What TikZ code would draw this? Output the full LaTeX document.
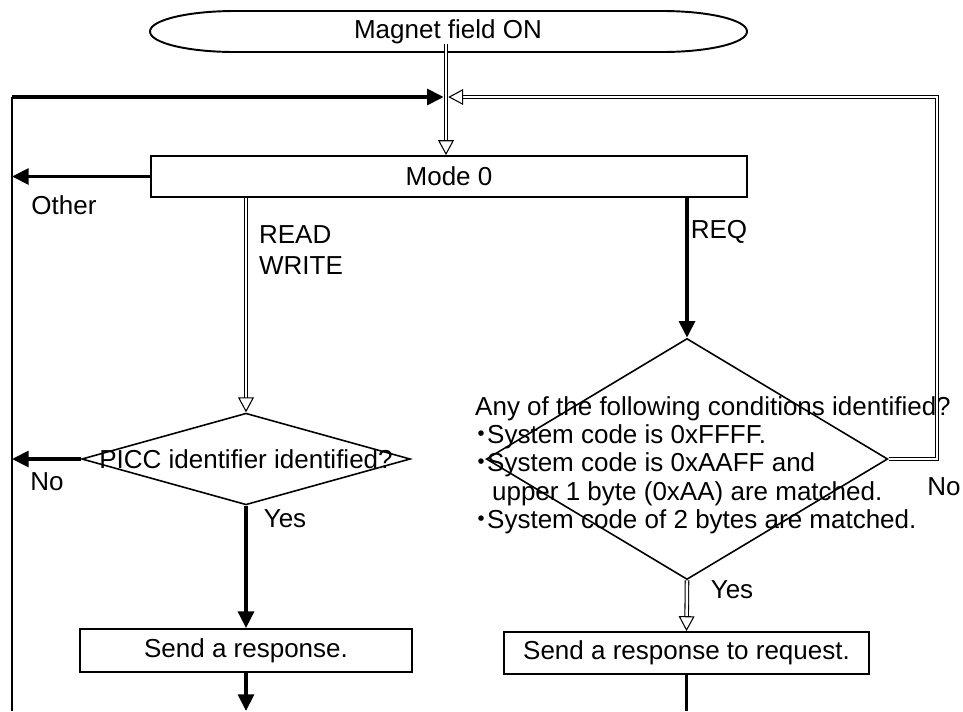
\documentclass[tikz,border=0pt]{standalone}
\usepackage{fontspec}
\setmainfont{Liberation Sans}
\newfontfamily\cjk{Noto Sans CJK JP}
\usetikzlibrary{arrows.meta, shapes.geometric}

\newcommand{\dotitem}{\makebox[0.46em][c]{\cjk ・}}

\begin{document}
\begin{tikzpicture}[x=0.02cm, y=-0.02cm,
  every node/.style={font=\fontsize{14.8}{17.8}\selectfont, inner sep=0pt},
  procbox/.style={draw, line width=1.1pt, rectangle},
  decision/.style={draw, line width=0.9pt, diamond, inner sep=0pt},
  dbl/.style={line width=0.6pt, double distance=1.4pt},
  heavy/.style={line width=2.1pt},
  fillhead/.style={-{Triangle[length=9.5pt,width=9pt]}},
  openhead/.style={-{Triangle[open,length=8.5pt,width=9pt]}}]

\useasboundingbox (0,0) rectangle (963,711);

%%%start
\node (start) at (448,31.5) {Magnet field ON};
\draw[line width=1.1pt] (235,11) -- (662,11)
  .. controls (709,11) and (747,20) .. (747,31.5)
  .. controls (747,43) and (709,52) .. (662,52) -- (235,52)
  .. controls (188,52) and (150,43) .. (150,31.5)
  .. controls (150,20) and (188,11) .. (235,11) -- cycle;

%%%mode 0
\node[procbox, minimum width=339pt, minimum height=23.2pt] (mode) at (449,176.5) {Mode 0};

%%%decisions
\node[decision, minimum width=187pt, minimum height=52.2pt] (picc) at (246,459) {};
\node at (picc.center) {PICC identifier identified?};

\node[decision, minimum width=228.5pt, minimum height=137.2pt] (sysc) at (687,459) {};
\node[align=left, font=\fontsize{14.8}{16.1}\selectfont] at (713,465)
  {Any of the following conditions identified?\\
   \dotitem System code is 0xFFFF.\\
   \dotitem System code is 0xAAFF and\\
   \hspace*{0.65em}upper 1 byte (0xAA) are matched.\\
   \dotitem System code of 2 bytes are matched.};

%%%responses
\node[procbox, minimum width=188.8pt, minimum height=24.4pt] (resp1) at (246,650.5) {Send a response.};
\node[procbox, minimum width=208pt, minimum height=23.8pt] (resp2) at (686.5,653) {Send a response to request.};

\coordinate (merge) at (446,97);
\coordinate (railtop) at (12,97);
\coordinate (railbot) at (12,711);
\coordinate (loopcorner) at (937,97);

%%%connectors
\draw[dbl, openhead] (start.south -| merge) -- (merge |- mode.north);
\draw[heavy, fillhead, shorten >=1.3pt] (railtop) -- (merge);
\draw[line width=1.2pt] (railtop) -- (railbot);
\draw[heavy, fillhead] (mode.west) -- (mode.west -| railtop);
\draw[dbl, openhead] (mode.south -| picc.north) -- (picc.north);
\draw[heavy, fillhead] (mode.south -| sysc.north) -- (sysc.north);
\draw[heavy, fillhead] (picc.west) -- (picc.west -| railtop);
\draw[heavy, fillhead] (picc.south) -- (resp1.north);
\draw[heavy, fillhead] (resp1.south) -- (resp1.south |- railbot);
\draw[dbl, openhead, shorten >=1.3pt] (sysc.east) -| (loopcorner) -- (merge);
\draw[dbl, openhead] (sysc.south) -- (resp2.north);
\draw[line width=1.4pt] (resp2.south) -- (resp2.south |- railbot);

%%%labels
\node at (64,205) {Other};
\node[align=left, font=\fontsize{14.8}{18.1}\selectfont] at (301,250) {READ\\WRITE};
\node at (719,232) {REQ};
\node at (285,519) {Yes};
\node at (732,590) {Yes};
\node at (47,482) {No};
\node at (944,487) {No};

\end{tikzpicture}
\end{document}
